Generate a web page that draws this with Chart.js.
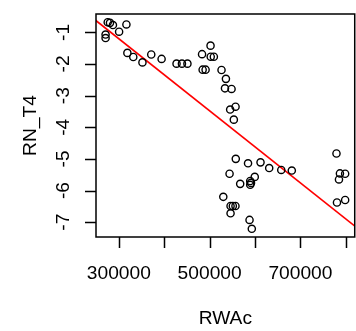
<!DOCTYPE html>
<html>
<head>
<meta charset="utf-8">
<script src="https://cdn.jsdelivr.net/npm/chart.js@4"></script>
<style>
  html, body { margin: 0; padding: 0; background: #fff; overflow: hidden; }
  #wrap { width: 360px; height: 331px; }
</style>
</head>
<body>
<div id="wrap"><canvas id="plot" width="360" height="331"></canvas></div>
<script>
// RN_T4 against RWAc
const rwac = [
    275500, 280500, 287000, 270800, 270800, 300600, 316700,
    318800, 331800, 352000, 371400, 394200, 427100, 439000, 451100,
    483300, 502000, 502400, 509300, 484600, 491100, 526200, 535900,
    533800, 548300, 545200, 557100, 553300,
    557600, 584600, 612100, 631200, 657800, 681000,
    543900, 567300, 589400, 591100, 589400, 599400,
    530100, 546100, 551100, 556900, 546100, 587900, 592900,
    779400, 787000, 798500, 784900, 780500, 798500
];
const rnT4 = [
    -0.68, -0.70, -0.77, -1.07, -1.18, -0.98, -0.75,
    -1.65, -1.78, -1.95, -1.70, -1.84, -1.99, -1.99, -1.99,
    -1.69, -1.42, -1.77, -1.77, -2.18, -2.18, -2.19, -2.47,
    -2.77, -2.79, -3.44, -3.35, -3.76,
    -5.00, -5.14, -5.11, -5.29, -5.35, -5.37,
    -5.47, -5.79, -5.70, -5.76, -5.82, -5.57,
    -6.20, -6.49, -6.49, -6.49, -6.72, -6.93, -7.21,
    -4.83, -5.46, -5.47, -5.65, -6.38, -6.30
];

// fitted line: intercept, slope
const fitCoef = [2.214, -1.139e-5];

const xTicks = [300000, 400000, 500000, 600000, 700000, 800000];
const yTicks = [-7, -6, -5, -4, -3, -2, -1];

const FONT = '"Liberation Sans", Arial, sans-serif';
const FSIZE = 19.2;
const TICK = 11;

const points = rwac.map((x, i) => ({ x: x, y: rnT4[i] }));
const lineX = [200000, 900000];
const fitPts = lineX.map(x => ({ x: x, y: fitCoef[0] + fitCoef[1] * x }));

// box, tick marks and rotated y tick labels, R base-graphics style
const rBox = {
    id: 'rBox',
    afterDraw(chart) {
        const ctx = chart.ctx;
        const a = chart.chartArea;
        const xs = chart.scales.x;
        const ys = chart.scales.y;
        ctx.save();
        ctx.strokeStyle = '#000';
        ctx.lineWidth = 1.5;
        ctx.strokeRect(a.left, a.top, a.right - a.left, a.bottom - a.top);

        ctx.beginPath();
        xTicks.forEach(v => {
            const px = Math.round(xs.getPixelForValue(v)) + 0.5;
            ctx.moveTo(px, a.bottom);
            ctx.lineTo(px, a.bottom + TICK);
        });
        yTicks.forEach(v => {
            const py = Math.round(ys.getPixelForValue(v)) + 0.5;
            ctx.moveTo(a.left, py);
            ctx.lineTo(a.left - TICK, py);
        });
        ctx.stroke();

        ctx.fillStyle = '#000';
        ctx.font = FSIZE + 'px ' + FONT;
        ctx.textAlign = 'center';
        ctx.textBaseline = 'middle';
        yTicks.forEach(v => {
            ctx.save();
            ctx.translate(64, ys.getPixelForValue(v));
            ctx.rotate(-Math.PI / 2);
            ctx.fillText(String(v), 0, 0);
            ctx.restore();
        });
        ctx.restore();
    }
};

new Chart(document.getElementById('plot'), {
    type: 'scatter',
    data: {
        datasets: [{
            label: 'RN_T4',
            data: points,
            pointStyle: 'circle',
            pointRadius: 3.6,
            pointBorderWidth: 1.4,
            pointBorderColor: '#000',
            pointBackgroundColor: 'rgba(0,0,0,0)',
            pointHoverRadius: 3.6
        }, {
            type: 'line',
            label: 'fit',
            data: fitPts,
            borderColor: '#ff0000',
            borderWidth: 1.6,
            pointRadius: 0,
            fill: false
        }]
    },
    plugins: [rBox],
    options: {
        responsive: false,
        animation: false,
        events: [],
        layout: { padding: { top: 14, right: 2, left: 0, bottom: 0 } },
        plugins: {
            legend: { display: false },
            tooltip: { enabled: false }
        },
        scales: {
            x: {
                type: 'linear',
                min: 249700,
                max: 819600,
                afterBuildTicks: s => { s.ticks = xTicks.map(v => ({ value: v })); },
                afterFit: s => { s.height = 94; },
                grid: { display: false, drawTicks: true, tickLength: TICK },
                border: { display: false },
                ticks: {
                    autoSkip: false,
                    maxRotation: 0,
                    padding: 14,
                    color: '#000',
                    font: { family: FONT, size: FSIZE },
                    callback: v => (v % 200000 === 100000 ? String(v) : '')
                },
                title: {
                    display: true,
                    text: 'RWAc',
                    color: '#000',
                    font: { family: FONT, size: FSIZE },
                    padding: { top: 0, bottom: 1 }
                }
            },
            y: {
                type: 'linear',
                min: -7.47,
                max: -0.42,
                afterBuildTicks: s => { s.ticks = yTicks.map(v => ({ value: v })); },
                afterFit: s => { s.width = 96; },
                grid: { display: false },
                border: { display: false },
                ticks: { display: false },
                title: {
                    display: true,
                    text: 'RN_T4',
                    color: '#000',
                    font: { family: FONT, size: FSIZE },
                    padding: { top: 19, bottom: 0 }
                }
            }
        }
    }
});
</script>
</body>
</html>
